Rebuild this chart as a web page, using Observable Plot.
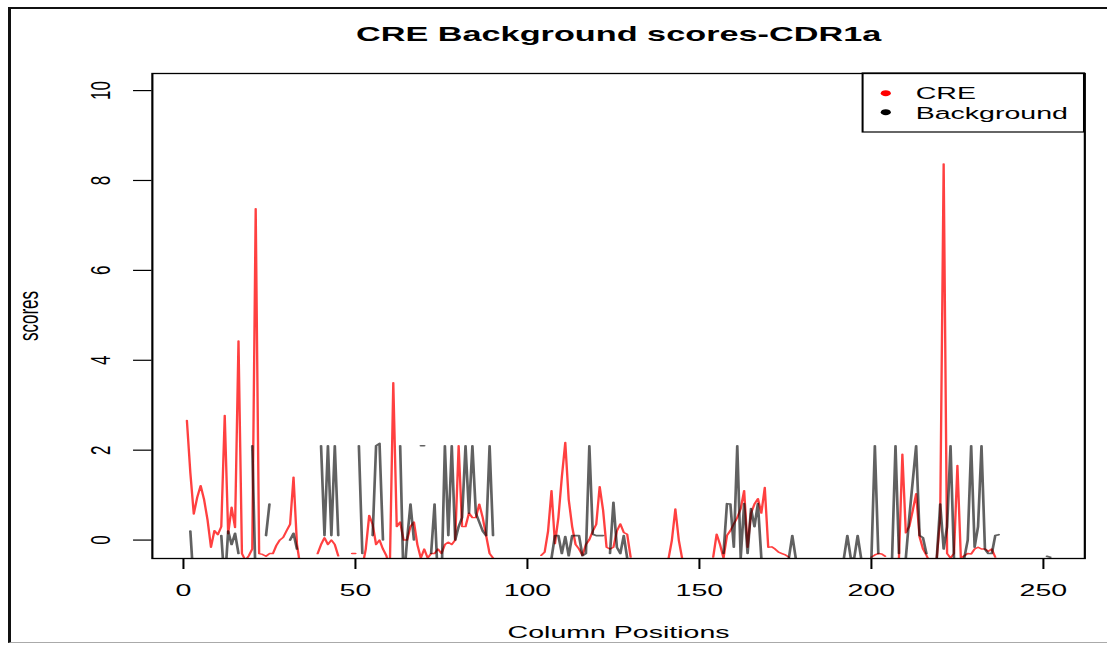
<!DOCTYPE html>
<html><head><meta charset="utf-8">
<script src="https://cdn.jsdelivr.net/npm/d3@7"></script>
<script src="https://cdn.jsdelivr.net/npm/@observablehq/plot@0.6"></script>
<style>
html,body{margin:0;padding:0;background:#fff;}
#wrap{position:relative;width:1107px;height:645px;overflow:hidden;background:#fff;}
#border{position:absolute;left:8px;top:7px;width:1120px;height:633px;border-left:3px solid #111;border-top:2px solid #111;border-bottom:1px solid #aaa;pointer-events:none;}
</style></head><body>
<div id="wrap"><div id="chart"></div><div id="border"></div></div>
<script>
const title = "CRE Background scores-CDR1a";
const xLabel = "Column Positions";
const yLabel = "scores";
const seriesNames = ["CRE", "Background"];
const seriesColors = ["#ff0000", "#000000"];
const xTicks = [0, 50, 100, 150, 200, 250];
const yTicks = [0, 2, 4, 6, 8, 10];

// CRE scores, column positions 1..252 (null = not drawn)
const creScores = [
  2.66, 1.5, 0.58, 0.95, 1.21, 0.9, 0.45, -0.16, 0.21, 0.12,
  0.3, 2.77, 0.14, 0.73, 0.28, 4.43, -0.3, -0.45, -0.35, -0.2,
  7.37, -0.3, -0.32, -0.36, -0.3, -0.3, -0.12, 0.0, 0.06, 0.21,
  0.35, 1.4, -0.1, -0.6, null, null, null, null, -0.3, -0.1,
  0.05, -0.1, 0.0, -0.1, -0.35, null, null, null, -0.3, -0.3,
  null, -0.6, -0.2, 0.55, 0.35, -0.1, 0.0, -0.2, -0.35, -0.6,
  3.5, 0.3, 0.4, 0.0, 0.0, 0.3, 0.4, -0.1, -0.4, -0.2,
  -0.4, -0.3, -0.3, -0.2, -0.3, -0.1, -0.05, -0.1, 0.0, 2.1,
  0.3, 0.3, 0.6, 0.5, 0.5, 0.8, 0.5, 0.1, -0.3, -0.4,
  null, null, null, null, null, null, null, null, null, null,
  null, null, null, -0.34, -0.27, 0.2, 1.1, -0.08, 0.5, 1.4,
  2.17, 0.9, 0.3, -0.1, -0.2, -0.34, -0.1, 0.01, 0.2, 0.35,
  1.19, 0.66, -0.16, -0.2, -0.16, 0.2, 0.36, 0.17, 0.13, -0.38,
  null, null, null, null, null, null, null, null, null, null,
  -0.42, 0.0, 0.69, 0.0, -0.42, null, null, null, null, null,
  null, null, null, -0.38, 0.13, -0.1, -0.4, 0.1, 0.21, 0.36,
  0.5, 0.7, 1.1, -0.16, 0.6, 0.8, 0.92, 0.6, 1.17, -0.16,
  -0.15, -0.2, -0.27, -0.3, -0.33, -0.38, null, null, null, null,
  null, null, null, null, null, null, null, null, null, null,
  null, null, null, null, null, null, null, null, null, -0.38,
  -0.33, -0.3, -0.31, -0.36, null, null, null, -0.4, 1.91, 0.16,
  0.3, 0.65, 1.03, 0.07, -0.2, -0.34, -0.5, null, -0.4, 0.5,
  8.37, -0.3, -0.4, -0.3, 1.66, -0.4, -0.35, -0.3, -0.31, -0.2,
  -0.16, -0.2, -0.2, -0.25, -0.2, -0.38, null, null, null, null,
  null, null, null, null, null, null, null, null, null, null,
  null, null
];

// Background scores, column positions 1..252 (null = not drawn)
const backgroundScores = [
  null, 0.2, -1, null, null, null, null, null, null, null,
  0.1, -1, 0.2, -0.1, 0.15, -0.3, null, null, null, 2.1,
  -1, null, null, 0.1, 0.8, null, null, null, null, null,
  0.0, 0.15, -0.2, null, null, null, null, null, null, 2.1,
  0.1, 2.1, 0.1, 2.1, 0.1, null, null, null, null, null,
  2.1, -0.3, null, null, 0.1, 2.1, 2.15, 0.0, null, null,
  null, null, 2.1, -1, 0.0, 0.8, 0.0, null, 2.1, 2.1,
  null, -0.3, 0.8, -1, -1, 2.1, 0.1, 2.1, 0.0, 0.3,
  0.5, 2.1, 0.6, 2.1, 0.6, 0.4, 0.2, 0.1, 2.1, 0.1,
  null, null, null, null, null, null, null, null, null, null,
  null, null, null, null, null, null, -0.4, 0.1, 0.1, -0.3,
  0.08, -0.35, 0.1, 0.1, 0.1, -0.35, -0.3, 2.1, 0.13, 0.1,
  0.1, 0.1, null, -0.3, 0.84, -0.16, -0.3, 0.1, -0.4, null,
  null, null, null, null, null, null, null, null, null, null,
  null, null, null, null, null, null, null, null, null, null,
  null, null, null, null, null, null, -0.3, 0.81, 0.8, -0.16,
  2.1, -0.4, 0.81, -0.3, 0.7, 0.3, 0.81, -0.4, null, null,
  null, null, null, null, null, -0.4, 0.1, -0.4, null, null,
  null, null, null, null, null, null, null, null, null, null,
  null, -0.4, 0.1, -0.4, -0.4, 0.1, -0.4, null, null, -0.4,
  2.1, -0.3, null, null, null, -0.4, 2.1, -0.3, null, -0.4,
  0.5, 1.3, 2.1, 0.1, 0.05, -0.3, null, null, -0.4, 0.8,
  -0.2, 0.3, 2.1, -0.4, null, null, -0.4, 0.0, 2.1, -0.16,
  0.3, 2.1, -0.2, -0.3, -0.3, 0.1, 0.12, null, null, null,
  null, null, null, null, null, null, null, null, null, null,
  -0.36, -0.38
];

// The reference is an R plot stretched horizontally; draw in a narrower
// coordinate space and stretch the SVG back to the page width.
const W = 659, H = 645, FULLW = 1107;
const font = "'Liberation Sans', Arial, Helvetica, sans-serif";
const positions = creScores.map((_, i) => i + 1);
const rows = positions.map((p, i) => ({pos: p, cre: creScores[i], bg: backgroundScores[i]}));

const legendMarks = seriesNames.flatMap((name, i) => [
  Plot.dot([name], {frameAnchor: "top-left", dx: 436.6, dy: 19.7 + 19 * i, r: 3, fill: seriesColors[i], stroke: "none"}),
  Plot.text([name], {frameAnchor: "top-left", dx: 454.4, dy: 25.3 + 20 * i, text: d => d, textAnchor: "start", lineAnchor: "bottom", fontSize: 17, fill: "black"})
]);

const svg = Plot.plot({
  width: W, height: H,
  marginLeft: 90.2, marginRight: 13.7, marginTop: 73, marginBottom: 87,
  style: {fontFamily: font, fontSize: "17px", background: "white", color: "black"},
  x: {domain: [-9.04, 262.04]},
  y: {domain: [-0.41, 10.38]},
  marks: [
    Plot.line(rows, {x: "pos", y: "cre", stroke: seriesColors[0], strokeOpacity: 0.75, strokeWidth: 1.4, clip: true}),
    Plot.line(rows, {x: "pos", y: "bg", stroke: seriesColors[1], strokeOpacity: 0.62, strokeWidth: 1.6, clip: true}),
    Plot.frame({stroke: "black", strokeWidth: 1.3}),
    Plot.axisX({ticks: xTicks, tickSize: 11, tickPadding: 14, strokeWidth: 1.2, fontSize: 17,
      label: xLabel, labelAnchor: "center", labelArrow: false, labelOffset: 79}),
    Plot.axisY({ticks: yTicks, tickSize: 11, tickPadding: 14, tickRotate: -90, strokeWidth: 1.2, fontSize: 17,
      label: yLabel, labelAnchor: "center", labelArrow: false, labelOffset: 80}),
    Plot.text([title], {frameAnchor: "top", lineAnchor: "bottom", dy: -32.4, fontSize: 20.4, fontWeight: "bold", fill: "black"}),
    ...legendMarks
  ]
});

d3.select(svg).append("rect")
  .attr("x", 513.5).attr("y", 73).attr("width", 131.8).attr("height", 59)
  .attr("fill", "none").attr("stroke", "black").attr("stroke-width", 1.2);

svg.setAttribute("width", FULLW);
svg.setAttribute("height", H);
svg.setAttribute("preserveAspectRatio", "none");
svg.style.width = FULLW + "px";
svg.style.height = H + "px";
svg.style.maxWidth = "none";
document.getElementById("chart").appendChild(svg);
</script>
</body></html>
